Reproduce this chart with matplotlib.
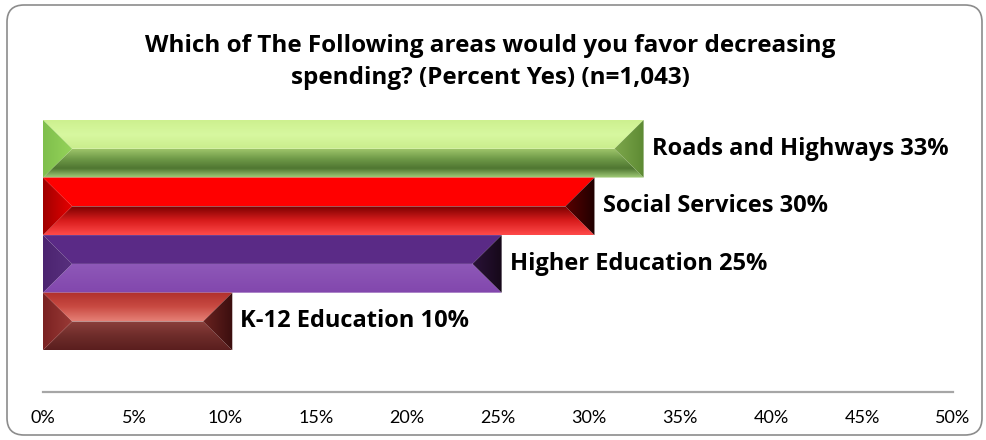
import matplotlib
matplotlib.use("Agg")
import matplotlib.pyplot as plt
import numpy as np
from matplotlib.colors import LinearSegmentedColormap
from matplotlib.patches import Polygon, FancyBboxPatch

# ──────────────────────────────────────────────────────────────────────────────
# Data
# ──────────────────────────────────────────────────────────────────────────────
TITLE = ("Which of The Following areas would you favor decreasing\n"
         "spending? (Percent Yes) (n=1,043)")
categories = ["Roads and Highways", "Social Services", "Higher Education", "K-12 Education"]
values = [33.0, 30.3, 25.2, 10.4]
value_labels = ["33%", "30%", "25%", "10%"]
x_ticks = [0, 5, 10, 15, 20, 25, 30, 35, 40, 45, 50]

# bevel shading per bar: top face, bottom face, left bevel, right bevel
# (each is a list of colour stops: bottom->top for faces, left->right for bevels)
SHADES = [
    {"top": ["#c9ed8c", "#d7f8a0", "#cdf08f"],
     "bot": ["#a6d07c", "#4f7631", "#6f9a48", "#9dc46a"],
     "left": ["#7fbf4c", "#95d35a"],
     "right": ["#7ea84c", "#5d8a33"]},
    {"top": ["#ff0000", "#ff0000"],
     "bot": ["#ff4a4a", "#d81c1c", "#7a0000"],
     "left": ["#a00000", "#e80000"],
     "right": ["#5a0000", "#200000"]},
    {"top": ["#5c2c88", "#5a2a86"],
     "bot": ["#8247ad", "#8e58b8"],
     "left": ["#4c2470", "#58307e"],
     "right": ["#2a1238", "#150818"]},
    {"top": ["#e58076", "#c84a42", "#b0302c"],
     "bot": ["#5a1e1e", "#6e2c2a", "#8c403c"],
     "left": ["#7a2222", "#9a3a36"],
     "right": ["#6a2220", "#3a0e0e"]},
]


def grad_poly(ax, xy, stops, extent, vertical=True):
    poly = Polygon(xy, closed=True, facecolor="none", edgecolor="none")
    ax.add_patch(poly)
    cmap = LinearSegmentedColormap.from_list("g", stops)
    ramp = np.linspace(0, 1, 256)
    data = ramp.reshape(-1, 1) if vertical else ramp.reshape(1, -1)
    im = ax.imshow(data, cmap=cmap, extent=extent, origin="lower",
                   aspect="auto", interpolation="bicubic", zorder=2)
    im.set_clip_path(poly)


def bevel_bar(ax, c, v, shade, h=1.0, b=1.6):
    top, bot = c + h / 2, c - h / 2
    grad_poly(ax, [(0, top), (v, top), (v - b, c), (b, c)], shade["top"], [0, v, c, top])
    grad_poly(ax, [(0, bot), (v, bot), (v - b, c), (b, c)], shade["bot"], [0, v, bot, c])
    grad_poly(ax, [(0, top), (b, c), (0, bot)], shade["left"], [0, b, bot, top], vertical=False)
    grad_poly(ax, [(v, top), (v - b, c), (v, bot)], shade["right"], [v - b, v, bot, top], vertical=False)


fig = plt.figure(figsize=(9.87, 4.4), dpi=100)
fig.patch.set_facecolor("white")
ax = fig.add_axes([43 / 987, 1 - 392 / 440, 910 / 987, 272 / 440])

ypos = [3, 2, 1, 0]
for c, v, cat, lab, shade in zip(ypos, values, categories, value_labels, SHADES):
    bevel_bar(ax, c, v, shade)
    ax.text(v + 0.45, c, f"{cat} {lab}", va="center", ha="left",
            fontsize=17, fontweight="bold", family="Open Sans", color="black")

ax.set_xlim(0, 50)
ax.set_ylim(-1.226, 3.5)
ax.set_xticks(x_ticks)
ax.set_xticklabels([f"{t}%" for t in x_ticks], family="Lato", fontsize=13)
ax.tick_params(axis="x", length=0, pad=13)
ax.set_yticks([])
for s in ["top", "left", "right"]:
    ax.spines[s].set_visible(False)
ax.spines["bottom"].set_color("#a6a6a6")
ax.spines["bottom"].set_linewidth(1.6)
ax.set_facecolor("none")

fig.text(0.497, 0.859, TITLE, ha="center", va="center", fontsize=17.5,
         fontweight="bold", family="Open Sans", linespacing=1.42)

border = FancyBboxPatch((0.07, 0.05), 9.75, 4.30,
                        boxstyle="round,pad=0,rounding_size=0.17",
                        transform=fig.dpi_scale_trans, facecolor="none",
                        edgecolor="#8c8c8c", linewidth=1.2)
fig.patches.append(border)

fig.savefig("out.png", dpi=100)
